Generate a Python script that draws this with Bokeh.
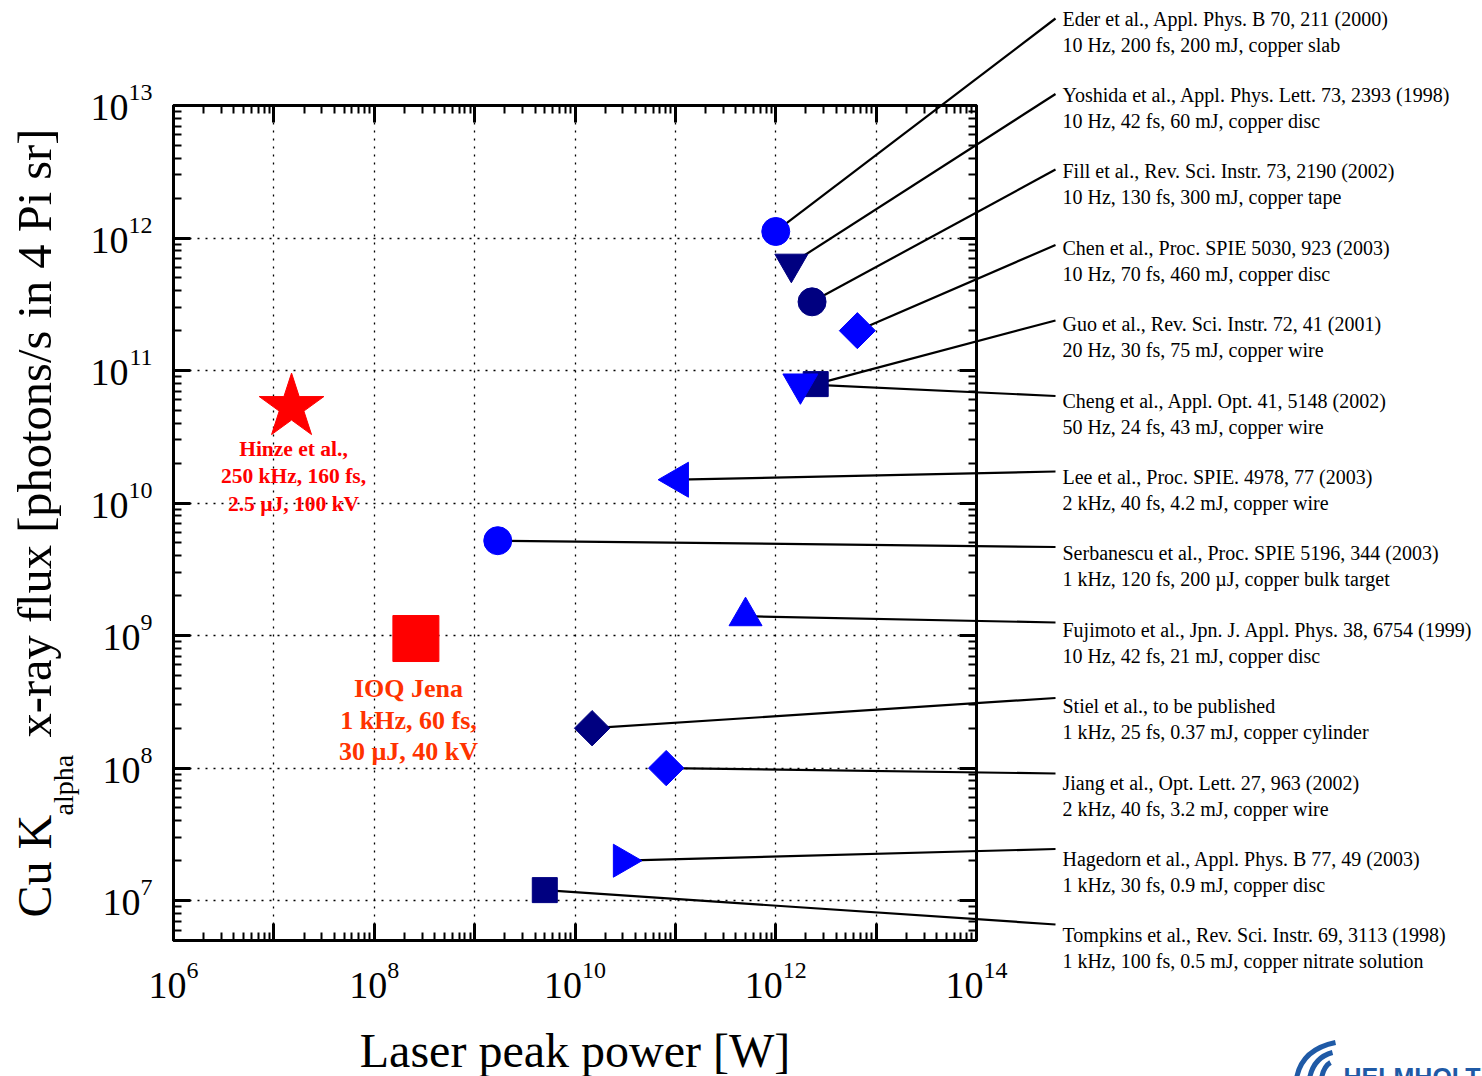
import numpy as np
from bokeh.plotting import figure
from bokeh.models import Range1d, LogAxis, FixedTicker, CustomJSTickFormatter, ColumnDataSource
from bokeh.core.properties import value
from bokeh.embed import file_html
from bokeh.resources import INLINE

# ---------------- data ----------------
refs = [
    "Eder et al., Appl. Phys. B 70, 211 (2000)",
    "Yoshida et al., Appl. Phys. Lett. 73, 2393 (1998)",
    "Fill et al., Rev. Sci. Instr. 73, 2190 (2002)",
    "Chen et al., Proc. SPIE 5030, 923 (2003)",
    "Guo et al., Rev. Sci. Instr. 72, 41 (2001)",
    "Cheng et al., Appl. Opt. 41, 5148 (2002)",
    "Lee et al., Proc. SPIE. 4978, 77 (2003)",
    "Serbanescu et al., Proc. SPIE 5196, 344 (2003)",
    "Fujimoto et al., Jpn. J. Appl. Phys. 38, 6754 (1999)",
    "Stiel et al., to be published",
    "Jiang et al., Opt. Lett. 27, 963 (2002)",
    "Hagedorn et al., Appl. Phys. B 77, 49 (2003)",
    "Tompkins et al., Rev. Sci. Instr. 69, 3113 (1998)",
]
details = [
    "10 Hz, 200 fs, 200 mJ, copper slab",
    "10 Hz, 42 fs, 60 mJ, copper disc",
    "10 Hz, 130 fs, 300 mJ, copper tape",
    "10 Hz, 70 fs, 460 mJ, copper disc",
    "20 Hz, 30 fs, 75 mJ, copper wire",
    "50 Hz, 24 fs, 43 mJ, copper wire",
    "2 kHz, 40 fs, 4.2 mJ, copper wire",
    "1 kHz, 120 fs, 200 \u00b5J, copper bulk target",
    "10 Hz, 42 fs, 21 mJ, copper disc",
    "1 kHz, 25 fs, 0.37 mJ, copper cylinder",
    "2 kHz, 40 fs, 3.2 mJ, copper wire",
    "1 kHz, 30 fs, 0.9 mJ, copper disc",
    "1 kHz, 100 fs, 0.5 mJ, copper nitrate solution",
]
power = [1.0e12, 1.43e12, 2.3e12, 6.5e12, 2.5e12, 1.76e12, 1.07e11,
         1.7e9, 5.0e11, 1.48e10, 8.1e10, 3.0e10, 5.0e9]
flux = [1.12e12, 6.4e11, 3.3e11, 2.0e11, 7.9e10, 7.9e10, 1.5e10,
        5.2e9, 1.4e9, 2.0e8, 1.0e8, 2.0e7, 1.2e7]

hinze_power, hinze_flux = [1.5e7], [5.3e10]
hinze_text = ["Hinze et al.,", "250 kHz, 160 fs,", "2.5 \u00b5J, 100 kV"]
ioq_power, ioq_flux = [2.6e8], [9.5e8]
ioq_text = ["IOQ Jena", "1 kHz, 60 fs,", "30 \u00b5J, 40 kV"]

x_exponents = list(range(6, 15))
x_labelled = [6, 8, 10, 12, 14]
y_exponents = list(range(7, 14))
x_ticks = [10.0 ** e for e in x_exponents]
y_ticks = [10.0 ** e for e in y_exponents]

x_title = "Laser peak power [W]"
y_title = ["Cu K", "alpha", "x-ray flux [photons/s in 4 Pi sr]"]

# ---------------- styles ----------------
BLUE, NAVY = "#0000FF", "#000080"
D45, D90 = np.pi / 4, np.pi / 2
markers = ["circle", "inverted_triangle", "circle", "square", "square",
           "inverted_triangle", "triangle", "circle", "triangle", "square",
           "square", "triangle", "square"]
angles = [0, 0, 0, D45, 0, 0, D90, 0, 0, D45, D45, -D90, 0]
colors = [BLUE, NAVY, NAVY, BLUE, NAVY, BLUE, BLUE, BLUE, BLUE, NAVY, BLUE, BLUE, NAVY]
sizes = [28, 33, 28, 25.5, 25, 35, 35, 28, 33, 25, 25, 33, 25]

# ---------------- layout (pixels) ----------------
L, T, FW, FH = 173, 105, 803, 835
W, H = 1482, 1076
X0, X1 = 6.0, 14.0
Y0, Y1 = np.log10(5e6), 13.0


def px_x(px):
    return 10 ** (X0 + (px - L) / FW * (X1 - X0))


def px_y(py):
    return 10 ** (Y1 - (py - T) / FH * (Y1 - Y0))


SERIF = "Liberation Serif"

p = figure(frame_width=FW, frame_height=FH,
           x_axis_type="log", y_axis_type="log",
           x_range=Range1d(1e6, 1e14), y_range=Range1d(5e6, 1e13),
           output_backend="svg", toolbar_location=None,
           min_border_left=L, min_border_top=T,
           min_border_right=W - L - FW, min_border_bottom=H - T - FH,
           background_fill_color="white", border_fill_color="white")
p.outline_line_color = "black"
p.outline_line_width = 3


def txt(xs, ys, texts, size, color="black", align="left", baseline="middle",
        angle=0.0, style="normal", font=SERIF, x_offset=0, y_offset=0):
    p.text(x=xs, y=ys, text=texts, text_font=value(font),
           text_font_size=value(size), text_color=color, text_align=align,
           text_baseline=baseline, angle=angle, text_font_style=style,
           x_offset=x_offset, y_offset=y_offset, level="overlay")


minor_x = [m * 10.0 ** e for e in range(6, 14) for m in range(2, 10)]
minor_y = [m * 10.0 ** e for e in range(6, 13) for m in range(2, 10) if m * 10.0 ** e >= 5e6]

fmt_none = CustomJSTickFormatter(code="return '';")


def style_axis(ax):
    ax.axis_line_width = 3
    ax.axis_line_color = "black"
    ax.major_tick_in = 17
    ax.major_tick_out = 0
    ax.minor_tick_in = 8
    ax.minor_tick_out = 0
    ax.major_tick_line_width = 3
    ax.minor_tick_line_width = 2
    ax.major_tick_line_color = "black"
    ax.minor_tick_line_color = "black"
    ax.major_label_text_font_size = "0px"
    ax.formatter = fmt_none


xt = FixedTicker(ticks=x_ticks, minor_ticks=minor_x)
yt = FixedTicker(ticks=y_ticks, minor_ticks=minor_y)

p.xaxis.ticker = xt
p.yaxis.ticker = yt
style_axis(p.xaxis[0])
style_axis(p.yaxis[0])
top_ax = LogAxis(ticker=xt)
right_ax = LogAxis(ticker=yt)
style_axis(top_ax)
style_axis(right_ax)
p.add_layout(top_ax, "above")
p.add_layout(right_ax, "right")

for g in (p.xgrid[0], p.ygrid[0]):
    g.grid_line_color = "black"
    g.grid_line_dash = "2 6"
    g.grid_line_width = 1.3
p.xgrid.ticker = xt
p.ygrid.ticker = yt

# ---------------- tick labels: 10 with raised exponent ----------------
BASE_FS, EXP_FS = 38, 24
for e in x_labelled:
    nd = len(str(e))
    total = BASE_FS + 0.5 * EXP_FS * nd
    txt([10.0 ** e], [px_y(985)], ["10"], f"{BASE_FS}px", x_offset=-total / 2)
    txt([10.0 ** e], [px_y(970)], [str(e)], f"{EXP_FS}px", x_offset=-total / 2 + BASE_FS)
for tk, e in zip(y_ticks, y_exponents):
    nd = len(str(e))
    txt([px_x(152)], [tk], ["10"], f"{BASE_FS}px", align="right",
        x_offset=-0.5 * EXP_FS * nd, y_offset=2)
    txt([px_x(152)], [tk], [str(e)], f"{EXP_FS}px", align="right", y_offset=-13)

# ---------------- leader lines + reference labels ----------------
n = len(refs)
line_end_x = px_x(1055)
line_end_y = [px_y(18 + 75.5 * i) for i in range(n)]
p.segment(x0=power, y0=flux, x1=[line_end_x] * n, y1=line_end_y,
          line_color="black", line_width=2.2, level="overlay")

text_x = px_x(1062)
txt([text_x] * n, [px_y(18 + 76.4 * i) for i in range(n)], refs, "20px")
txt([text_x] * n, [px_y(44 + 76.4 * i) for i in range(n)], details, "20px")

# ---------------- markers ----------------
src = ColumnDataSource(dict(x=power, y=flux, marker=markers, angle=angles,
                            color=colors, size=sizes))
p.scatter(x="x", y="y", marker="marker", angle="angle", size="size",
          fill_color="color", line_color="color", line_width=1,
          source=src, level="overlay")

p.scatter(hinze_power, hinze_flux, marker="star", size=68,
          fill_color="#FF0000", line_color="#FF0000", level="overlay")
p.scatter(ioq_power, ioq_flux, marker="square", size=46,
          fill_color="#FF0000", line_color="#FF0000", level="overlay")

txt([px_x(293)] * 3, [px_y(448 + 27.5 * k) for k in range(3)], hinze_text,
    "21.5px", color="#FF0000", align="center", style="bold")
txt([px_x(408)] * 3, [px_y(688 + 31.5 * k) for k in range(3)], ioq_text,
    "26px", color="#FF3300", align="center", style="bold")

# ---------------- axis titles ----------------
txt([px_x(L + FW / 2)], [px_y(1050)], [x_title], "48px", align="center")
txt([px_x(34)], [px_y(917)], [y_title[0]], "48px", angle=np.pi / 2)
txt([px_x(63)], [px_y(815)], [y_title[1]], "28px", angle=np.pi / 2)
txt([px_x(34)], [px_y(737)], [y_title[2]], "48.5px", angle=np.pi / 2)

# ---------------- logo fragment ----------------
LOGO = "#1F5AA6"
p.quadratic(x0=[px_x(1296), px_x(1309), px_x(1321)],
            y0=[px_y(1078), px_y(1078), px_y(1078)],
            x1=[px_x(1335), px_x(1332), px_x(1330)],
            y1=[px_y(1042), px_y(1052), px_y(1062)],
            cx=[px_x(1301), px_x(1313), px_x(1323)],
            cy=[px_y(1049), px_y(1057), px_y(1066)],
            line_color=LOGO, line_width=5, level="overlay")
txt([px_x(1343)], [px_y(1076)], ["HELMHOLTZ"], "25px", color=LOGO,
    style="bold", font="Liberation Sans")

open("out.html", "w").write(file_html(p, INLINE))
